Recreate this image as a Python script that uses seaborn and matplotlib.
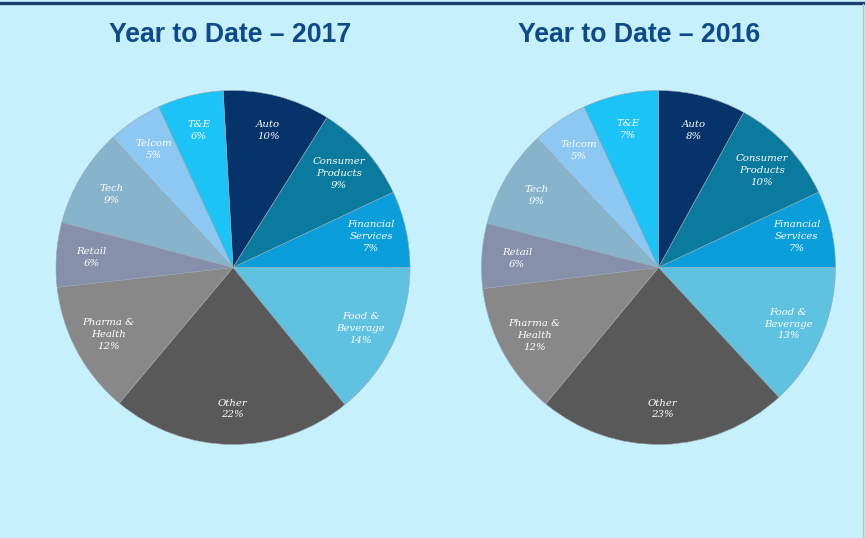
import numpy as np
import seaborn as sns
import matplotlib.pyplot as plt

# data (percent of total)
sectors = ["Auto", "Consumer\nProducts", "Financial\nServices", "Food &\nBeverage",
           "Other", "Pharma &\nHealth", "Retail", "Tech", "Telcom", "T&E"]
share_2017 = [9.8, 9.1, 7.0, 14.1, 22.0, 12.1, 5.9, 9.0, 5.0, 6.0]
share_2016 = [8.0, 10.0, 7.0, 13.1, 22.9, 12.1, 5.9, 9.0, 5.1, 6.9]
titles = ["Year to Date \u2013 2017", "Year to Date \u2013 2016"]

sector_colors = ["#06336A", "#0A7A9E", "#0A9EDB", "#60C2E1", "#595959",
                 "#888888", "#8690AB", "#87B3CB", "#8CC8F2", "#1BC3F6"]

BG = "#C6F0FC"
TITLE_BLUE = "#0E4A8A"

sns.set_theme(style="white", rc={"figure.facecolor": BG, "axes.facecolor": BG})
plt.rcParams["font.family"] = ["Liberation Sans", "DejaVu Sans"]


def draw_pie(ax, values, title, cx, start):
    wedges, _ = ax.pie(values, colors=sector_colors, startangle=start, counterclock=False,
                       radius=1.0, normalize=True,
                       wedgeprops=dict(linewidth=0.4, edgecolor="#9aa6b0"))
    ax.set_xlim(-1, 1)
    ax.set_ylim(-1, 1)
    ax.set_aspect("equal")
    ax.axis("off")

    # labels placed inside each wedge along its mid angle
    for w, name, v in zip(wedges, sectors, values):
        mid = np.deg2rad((w.theta1 + w.theta2) / 2)
        r = 0.8
        ax.text(r * np.cos(mid), r * np.sin(mid), f"{name}\n{round(v):d}%",
                ha="center", va="center", color="white", fontsize=7.3,
                style="italic", family=["DejaVu Serif"], linespacing=1.4)

    fig.text(cx, 0.935, title, ha="center", va="center", color=TITLE_BLUE,
             fontsize=19.2, fontweight="bold")


fig = plt.figure(figsize=(8.65, 5.38), dpi=100)

# pie axes placed in pixel terms, radius ~177 px
W, H = 865, 538
r_px = 177
layout = [(share_2017, 233, 93.2, 230), (share_2016, 658.5, 90, 639)]
for i, (vals, cx_px, start, title_px) in enumerate(layout):
    ax = fig.add_axes([(cx_px - r_px) / W, 1 - (267.5 + r_px) / H, 2 * r_px / W, 2 * r_px / H])
    ax.set_facecolor(BG)
    draw_pie(ax, vals, titles[i], title_px / W, start)

# top rule and right border
fig.add_artist(plt.Line2D([0, 1], [1 - 2.5 / H, 1 - 2.5 / H], color="#1C3F72", linewidth=2.4))
fig.add_artist(plt.Line2D([1 - 2.5 / W, 1 - 2.5 / W], [0, 1 - 4 / H], color="#B9C3C8", linewidth=1.0))

fig.savefig("out.png", dpi=100, facecolor=BG)
